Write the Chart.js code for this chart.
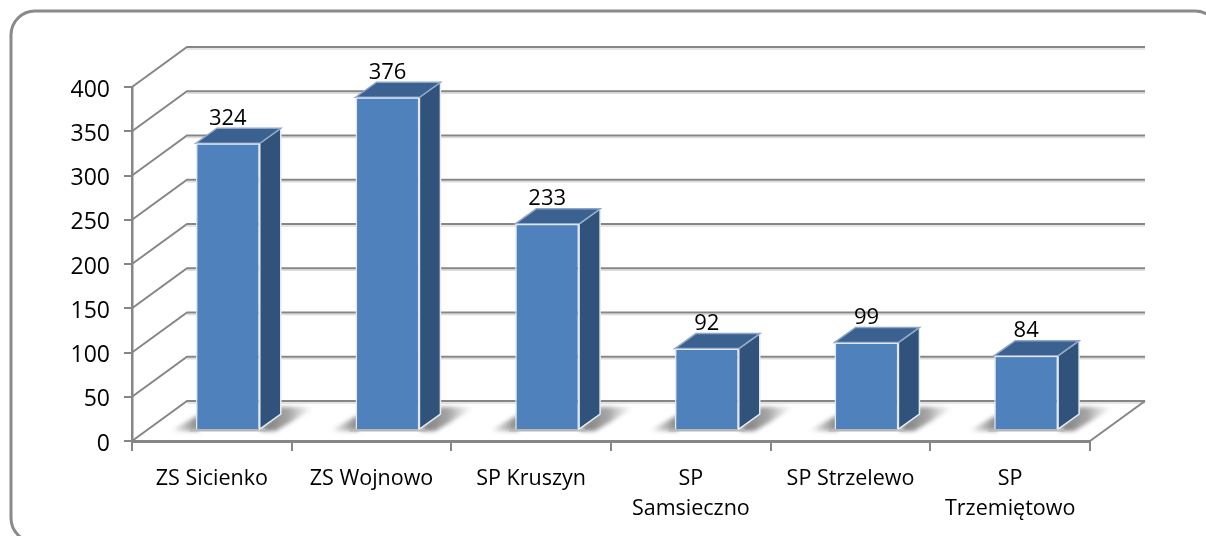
<!DOCTYPE html>
<html><head><meta charset="utf-8">
<style>html,body{margin:0;padding:0;background:#fff;overflow:hidden}#w{width:1206px;height:536px;filter:blur(0.5px)}</style>
<script src="https://cdn.jsdelivr.net/npm/chart.js@4"></script>
</head><body><div id="w"><canvas id="c" width="1206" height="536"></canvas></div>
<script>
const categories = ["ZS Sicienko","ZS Wojnowo","SP Kruszyn",["SP","Samsieczno"],"SP Strzelewo",["SP","Trzemiętowo"]];
const values = [324,376,233,92,99,84];
const yTicks = [0,50,100,150,200,250,300,350,400];

const FONT = '"Open Sans"';
const GREY = '#868686';
const wallDX = 55, wallDY = -40;   // depth of the chart floor
const barDX = 16, barDY = -11;     // bar sits inside the floor
const sideDX = 21, sideDY = -15;   // depth of a bar

function poly(ctx, pts){ ctx.beginPath(); pts.forEach((p,i)=> i?ctx.lineTo(p[0],p[1]):ctx.moveTo(p[0],p[1])); ctx.closePath(); }

const frame3d = {
  id:'frame3d',
  beforeDraw(chart){
    const ctx = chart.ctx;
    ctx.save();
    ctx.fillStyle='#fff'; ctx.fillRect(0,0,chart.width,chart.height);
    ctx.strokeStyle='#8a8a8a'; ctx.lineWidth=3;
    ctx.beginPath(); ctx.roundRect(11,11,1208,531,24); ctx.stroke();
    ctx.restore();
  },
  beforeDatasetsDraw(chart){
    const ctx = chart.ctx, y = chart.scales.y, a = chart.chartArea;
    ctx.save();
    yTicks.forEach(v=>{
      const py = y.getPixelForValue(v);
      ctx.strokeStyle='#dcdcdc'; ctx.lineWidth=1.5;
      ctx.beginPath(); ctx.moveTo(a.left+wallDX,py+wallDY+2); ctx.lineTo(a.right+wallDX,py+wallDY+2); ctx.stroke();
      ctx.strokeStyle=GREY; ctx.lineWidth=2;
      ctx.beginPath(); ctx.moveTo(a.left,py); ctx.lineTo(a.left+wallDX,py+wallDY); ctx.lineTo(a.right+wallDX,py+wallDY); ctx.stroke();
    });
    ctx.beginPath(); ctx.moveTo(a.right,a.bottom); ctx.lineTo(a.right+wallDX,a.bottom+wallDY); ctx.stroke();
    // floor shadows
    const bars = chart.getDatasetMeta(0).data;
    bars.forEach(b=>{
      const L=b.x-b.width/2+barDX, R=b.x+b.width/2+barDX, B=b.base+barDY;
      ctx.filter='blur(2px)';
      let g=ctx.createLinearGradient(L-26,0,L,0);
      g.addColorStop(0,'rgba(130,130,130,0)'); g.addColorStop(1,'rgba(120,120,120,.85)');
      ctx.fillStyle=g; poly(ctx,[[L-26,B+2],[L+3,B+2],[L+3,B-14]]); ctx.fill();
      g=ctx.createLinearGradient(R,0,R+54,0);
      g.addColorStop(0,'rgba(110,110,110,.95)'); g.addColorStop(.55,'rgba(130,130,130,.7)'); g.addColorStop(1,'rgba(170,170,170,0)');
      ctx.fillStyle=g; poly(ctx,[[R,B+2],[R+sideDX,B+sideDY-7],[R+56,B+sideDY-7],[R+16,B+2]]); ctx.fill();
      ctx.filter='none';
      ctx.fillStyle='#b8b8b8'; ctx.fillRect(L-6,B,R-L+12,2.5);
    });
    ctx.restore();
  },
  beforeDatasetDraw(chart){
    const ctx = chart.ctx;
    ctx.save(); ctx.translate(barDX,barDY);
    chart.getDatasetMeta(0).data.forEach(b=>{
      const L=b.x-b.width/2, R=b.x+b.width/2, T=b.y, B=b.base;
      ctx.fillStyle='#31527a'; ctx.strokeStyle='#e4ebf4'; ctx.lineWidth=1.5;
      poly(ctx,[[R,T],[R+sideDX,T+sideDY],[R+sideDX,B+sideDY],[R,B]]); ctx.fill(); ctx.stroke();
      ctx.fillStyle='#3b6191'; ctx.strokeStyle='#8ea6c6';
      poly(ctx,[[L,T],[L+sideDX,T+sideDY],[R+sideDX,T+sideDY],[R,T]]); ctx.fill(); ctx.stroke();
    });
  },
  afterDatasetDraw(chart){ chart.ctx.restore(); },
  afterDatasetsDraw(chart){
    const ctx = chart.ctx;
    ctx.save();
    ctx.font='22px '+FONT; ctx.fillStyle='#000'; ctx.textAlign='center'; ctx.textBaseline='middle';
    chart.getDatasetMeta(0).data.forEach((b,i)=>{
      ctx.fillText(String(values[i]), b.x+barDX, b.y+barDY-25);
    });
    ctx.restore();
  }
};

new Chart(document.getElementById('c'),{
  type:'bar',
  data:{labels:categories,datasets:[{data:values,backgroundColor:'#4f81bd',borderColor:'#dde6f1',borderWidth:1.5,barPercentage:0.4,categoryPercentage:1,clip:false}]},
  plugins:[frame3d],
  options:{
    responsive:false,animation:false,
    layout:{padding:{left:0,right:116,top:87,bottom:0}},
    plugins:{legend:{display:false},title:{display:false},tooltip:{enabled:false}},
    scales:{
      x:{
        afterFit(s){s.height=95;},
        grid:{drawOnChartArea:false,color:GREY,tickLength:10,lineWidth:2},
        border:{color:GREY,width:3},
        ticks:{font:{family:FONT,size:21.5,lineHeight:1.38},color:'#000',maxRotation:0,autoSkip:false,padding:13}
      },
      y:{
        min:0,max:400,
        afterFit(s){s.width=132;},
        afterBuildTicks(s){s.ticks=yTicks.map(v=>({value:v}));},
        grid:{drawOnChartArea:false,color:GREY,tickLength:8,lineWidth:2},
        border:{color:GREY,width:2.5},
        ticks:{font:{family:FONT,size:23},color:'#000',padding:14,labelOffset:3}
      }
    }
  }
});
</script></body></html>
